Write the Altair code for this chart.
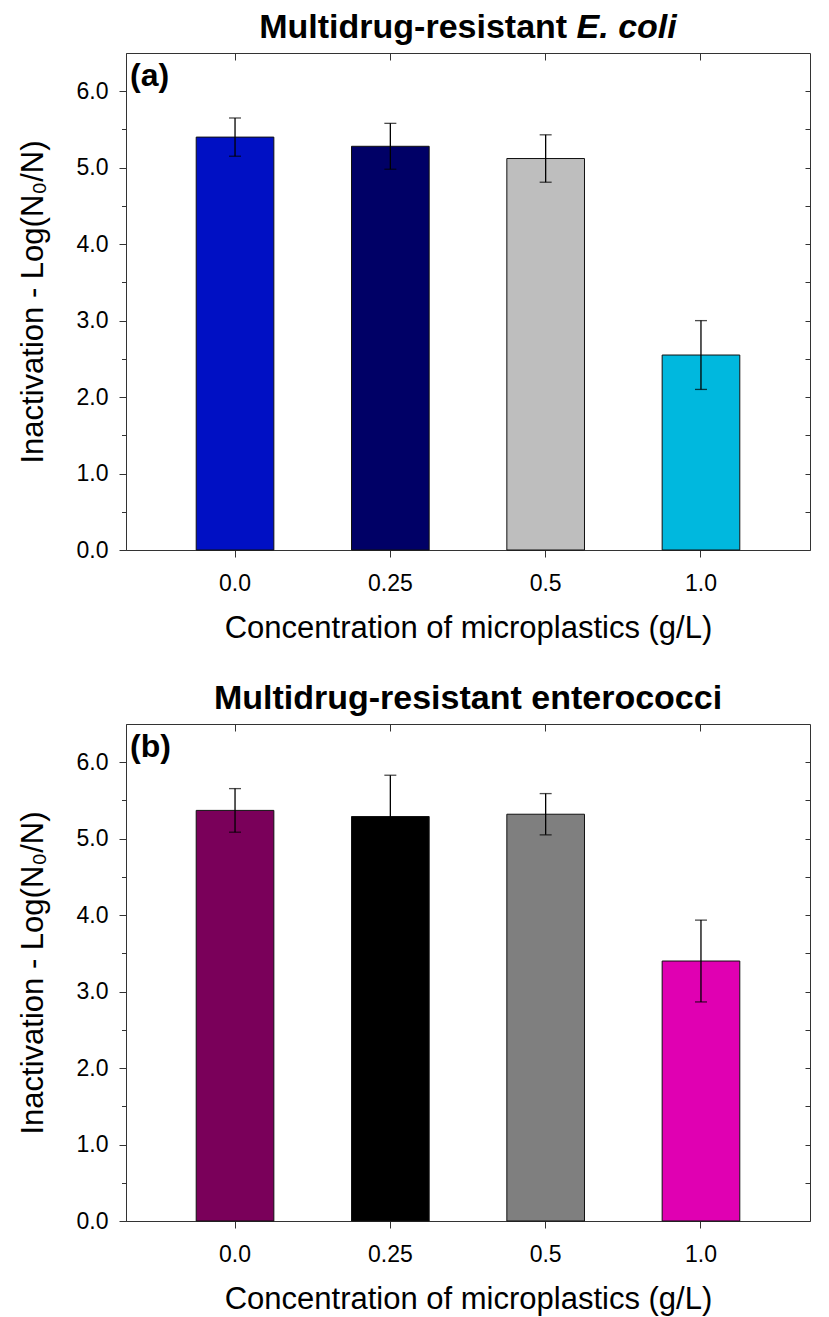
import altair as alt
import pandas as pd

# ---- data ----
categories = ["0.0", "0.25", "0.5", "1.0"]

ecoli_mean = [5.40, 5.28, 5.12, 2.55]
ecoli_err = [0.25, 0.30, 0.31, 0.45]
ecoli_colors = ["#0010C4", "#000066", "#BEBEBE", "#00B8DE"]

entero_mean = [5.37, 5.29, 5.32, 3.40]
entero_err = [0.285, 0.54, 0.27, 0.535]
entero_colors = ["#7A005A", "#000000", "#7F7F7F", "#E000B2"]

y_major = [0, 1, 2, 3, 4, 5, 6]
y_minor = [0.5, 1.5, 2.5, 3.5, 4.5, 5.5]
y_right = [0.5, 1.0, 1.5, 2.0, 2.5, 3.0, 3.5, 4.0, 4.5, 5.0, 5.5, 6.0]

x_title = "Concentration of microplastics (g/L)"
y_title = "Inactivation - Log(N\u2080/N)"

W = 684
H = 497
FONT = "Liberation Sans"
TITLE_SIZE = 34


def panel(title_main, title_ital, label, means, errs, colors):
    df = pd.DataFrame({
        "conc": categories,
        "mean": means,
        "lo": [m - e for m, e in zip(means, errs)],
        "hi": [m + e for m, e in zip(means, errs)],
        "color": colors,
    })
    xscale = alt.Scale(domain=categories, paddingInner=0.5, paddingOuter=0.452)
    yscale = alt.Scale(domain=[0, 6.5], nice=False, zero=True)
    base = alt.Chart(df)

    bars = base.mark_bar(stroke="#111111", strokeWidth=1).encode(
        x=alt.X("conc:N", sort=categories, scale=xscale,
                axis=alt.Axis(title=x_title, labelAngle=0, tickSize=7,
                              labelPadding=15, titlePadding=18)),
        y=alt.Y("mean:Q", scale=yscale,
                axis=alt.Axis(values=y_major, format=".1f", tickSize=7,
                              labelPadding=11, title=y_title, titlePadding=27)),
        color=alt.Color("color:N", scale=None),
    )

    rules = base.mark_rule(color="black", strokeWidth=1.3).encode(
        x=alt.X("conc:N", sort=categories, scale=xscale,
                axis=alt.Axis(orient="bottom", offset=-H, labels=False,
                              domain=False, title=None, tickSize=7)),
        y=alt.Y("lo:Q", scale=yscale,
                axis=alt.Axis(orient="left", values=y_minor, tickSize=4.5,
                              labels=False, domain=False, title=None)),
        y2="hi:Q",
    )

    caps_hi = base.mark_tick(color="black", thickness=1.3, size=12).encode(
        x=alt.X("conc:N", sort=categories, scale=xscale, axis=None),
        y=alt.Y("hi:Q", scale=yscale,
                axis=alt.Axis(orient="left", offset=-W, values=y_right,
                              tickSize=5, labels=False, domain=False,
                              title=None)),
    )
    caps_lo = base.mark_tick(color="black", thickness=1.3, size=12).encode(
        x=alt.X("conc:N", sort=categories, scale=xscale, axis=None),
        y=alt.Y("lo:Q", scale=yscale, axis=None),
    )

    layers = [bars, rules, caps_hi, caps_lo]

    # panel label (a)/(b)
    lab = alt.Chart(pd.DataFrame({"t": [label]})).mark_text(
        font=FONT, fontSize=32, fontWeight="bold", align="left",
        baseline="alphabetic", color="black"
    ).encode(x=alt.value(4), y=alt.value(33), text="t:N")
    layers.append(lab)

    # title (bold, with optional italic part)
    full_em = 9.056 + 0.278 + 2.946
    if title_ital:
        start = W / 2 - full_em * TITLE_SIZE / 2
        t1 = alt.Chart(pd.DataFrame({"t": [title_main]})).mark_text(
            font=FONT, fontSize=TITLE_SIZE, fontWeight="bold", align="left",
            baseline="alphabetic", color="black"
        ).encode(x=alt.value(start), y=alt.value(-15), text="t:N")
        t2 = alt.Chart(pd.DataFrame({"t": [title_ital]})).mark_text(
            font=FONT, fontSize=TITLE_SIZE, fontWeight="bold", fontStyle="italic",
            align="left", baseline="alphabetic", color="black"
        ).encode(x=alt.value(start + (9.056 + 0.278) * TITLE_SIZE),
                 y=alt.value(-15), text="t:N")
        layers += [t1, t2]
    else:
        t1 = alt.Chart(pd.DataFrame({"t": [title_main]})).mark_text(
            font=FONT, fontSize=TITLE_SIZE, fontWeight="bold", align="center",
            baseline="alphabetic", color="black"
        ).encode(x=alt.value(W / 2), y=alt.value(-15), text="t:N")
        layers.append(t1)

    return alt.layer(*layers).resolve_axis(
        x="independent", y="independent"
    ).properties(width=W, height=H)


pa = panel("Multidrug-resistant", "E. coli", "(a)", ecoli_mean, ecoli_err, ecoli_colors)
pb = panel("Multidrug-resistant enterococci", None, "(b)", entero_mean, entero_err, entero_colors)

chart = alt.vconcat(pa, pb, spacing=37).configure(
    padding={"left": 8, "top": 2, "right": 5, "bottom": 5},
    font=FONT,
).configure_view(
    stroke="#333333", strokeWidth=1
).configure_axis(
    labelFont=FONT, titleFont=FONT, labelFontSize=23, titleFontSize=31,
    titleFontWeight="normal", labelColor="black", titleColor="black",
    tickColor="#333333", domainColor="#333333", tickWidth=1, domainWidth=1,
    grid=False,
)

chart.save("out.html", embed_options={"renderer": "svg", "actions": False})
